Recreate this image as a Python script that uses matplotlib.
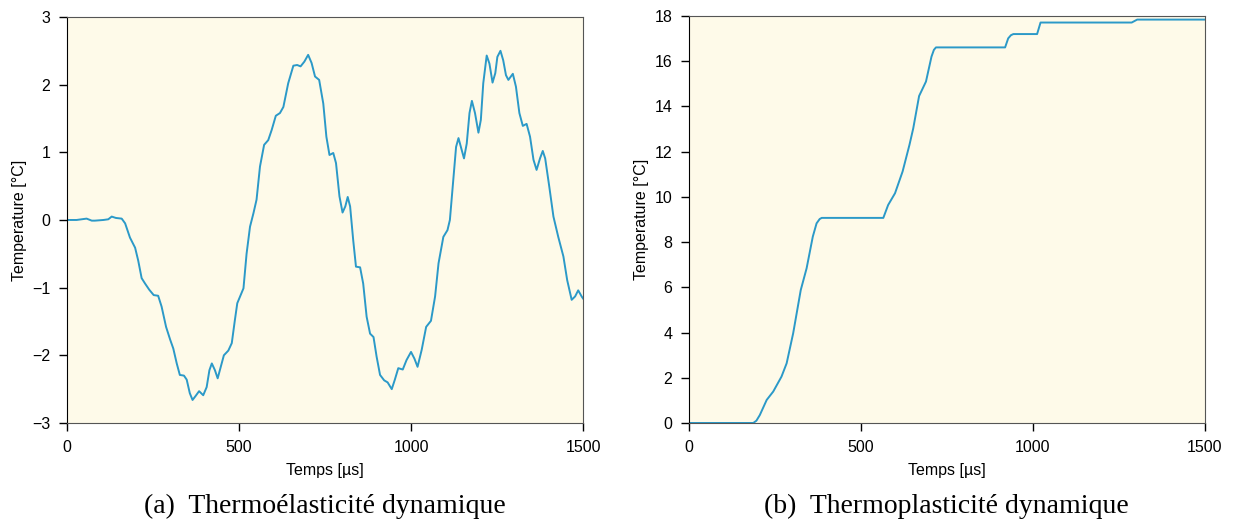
import matplotlib.pyplot as plt

# (a) thermoelastic response
t_a = [0, 28, 57, 72, 81, 106, 120, 130, 142, 159, 169, 183, 198, 207, 217, 227,
       239, 252, 265, 275, 288, 300, 309, 319, 328, 340, 348, 357, 365, 374, 384,
       396, 406, 414, 421, 430, 438, 446, 456, 469, 479, 488, 495, 505, 513, 522,
       532, 542, 551, 561, 573, 585, 595, 607, 619, 629, 643, 658, 669, 679, 690,
       701, 711, 721, 733, 745, 754, 763, 774, 782, 792, 801, 809, 816, 823, 832,
       840, 852, 861, 871, 881, 891, 900, 910, 922, 932, 944, 953, 963, 976, 987,
       1000, 1010, 1019, 1031, 1044, 1058, 1070, 1080, 1094, 1106, 1113, 1123, 1131,
       1138, 1145, 1154, 1162, 1170, 1177, 1186, 1196, 1203, 1210, 1220, 1228, 1237,
       1245, 1251, 1260, 1268, 1276, 1283, 1296, 1305, 1315, 1325, 1336, 1346, 1356,
       1365, 1375, 1383, 1390, 1402, 1414, 1428, 1443, 1454, 1467, 1477, 1486, 1496,
       1500]
T_a = [0.00, 0.00, 0.02, -0.01, -0.01, 0.00, 0.01, 0.05, 0.03, 0.02, -0.05, -0.26,
       -0.41, -0.60, -0.86, -0.94, -1.03, -1.11, -1.12, -1.28, -1.58, -1.77, -1.90,
       -2.12, -2.29, -2.30, -2.36, -2.56, -2.66, -2.60, -2.53, -2.59, -2.47, -2.22,
       -2.12, -2.22, -2.34, -2.19, -2.00, -1.93, -1.82, -1.48, -1.23, -1.11, -1.01,
       -0.50, -0.10, 0.10, 0.30, 0.79, 1.11, 1.18, 1.33, 1.54, 1.58, 1.67, 2.02, 2.28,
       2.29, 2.27, 2.34, 2.44, 2.32, 2.12, 2.07, 1.72, 1.23, 0.96, 0.99, 0.84, 0.35,
       0.11, 0.20, 0.34, 0.20, -0.30, -0.69, -0.70, -0.94, -1.43, -1.68, -1.73, -2.02,
       -2.29, -2.37, -2.40, -2.50, -2.36, -2.19, -2.21, -2.07, -1.95, -2.05, -2.17,
       -1.92, -1.58, -1.49, -1.13, -0.64, -0.25, -0.15, 0.00, 0.59, 1.08, 1.21, 1.08,
       0.91, 1.13, 1.58, 1.76, 1.58, 1.29, 1.48, 2.02, 2.43, 2.31, 2.03, 2.17, 2.41,
       2.50, 2.36, 2.14, 2.07, 2.16, 1.97, 1.58, 1.39, 1.42, 1.23, 0.89, 0.74, 0.91,
       1.02, 0.91, 0.49, 0.05, -0.25, -0.54, -0.89, -1.18, -1.13, -1.04, -1.13, -1.16]

# (b) thermoplastic response
t_b = [0, 187, 196, 206, 226, 245, 269, 284, 303, 325, 342, 360, 371, 380, 386,
       565, 579, 599, 621, 641, 652, 669, 689, 705, 712, 718, 919, 928, 936, 943,
       1012, 1022, 1287, 1303, 1500]
T_b = [0.0, 0.0, 0.1, 0.35, 1.02, 1.39, 2.05, 2.64, 3.97, 5.88, 6.84, 8.24, 8.83,
       9.02, 9.07, 9.07, 9.64, 10.16, 11.12, 12.30, 13.03, 14.46, 15.10, 16.20,
       16.50, 16.61, 16.61, 17.01, 17.15, 17.20, 17.20, 17.71, 17.71, 17.84, 17.84]

plt.rcParams['font.family'] = ['Liberation Sans', 'DejaVu Sans']
bg = '#fefae9'
line_col = '#2b99c8'

fig = plt.figure(figsize=(12.36, 5.22), dpi=100)
ax1 = fig.add_axes([0.0542, 0.1897, 0.4175, 0.7778])
ax2 = fig.add_axes([0.5574, 0.1897, 0.4175, 0.7797])


def style(ax, xdata, ydata, ylim, yticks, caption, cx):
    ax.set_facecolor(bg)
    ax.plot(xdata, ydata, color=line_col, lw=1.4)
    ax.set_xlim(0, 1500)
    ax.set_ylim(*ylim)
    ax.set_xticks([0, 500, 1000, 1500])
    ax.set_yticks(yticks)
    ax.tick_params(direction='out', length=6, width=1, labelsize=11.5, pad=6)
    for s in ['top', 'right', 'bottom']:
        ax.spines[s].set_color('#555555')
    ax.spines['left'].set_color('black')
    ax.set_xlabel('Temps [µs]', fontsize=11.5, labelpad=6)
    ax.set_ylabel('Temperature [°C]', fontsize=11.5)
    fig.text(cx, 0.017, caption, ha='center', va='baseline',
             family='Liberation Serif', fontsize=20)


style(ax1, t_a, T_a, (-3, 3), range(-3, 4), '(a)  Thermoélasticité dynamique', 0.263)
style(ax2, t_b, T_b, (0, 18), range(0, 19, 2), '(b)  Thermoplasticité dynamique', 0.766)

fig.savefig('out.png', dpi=100)
